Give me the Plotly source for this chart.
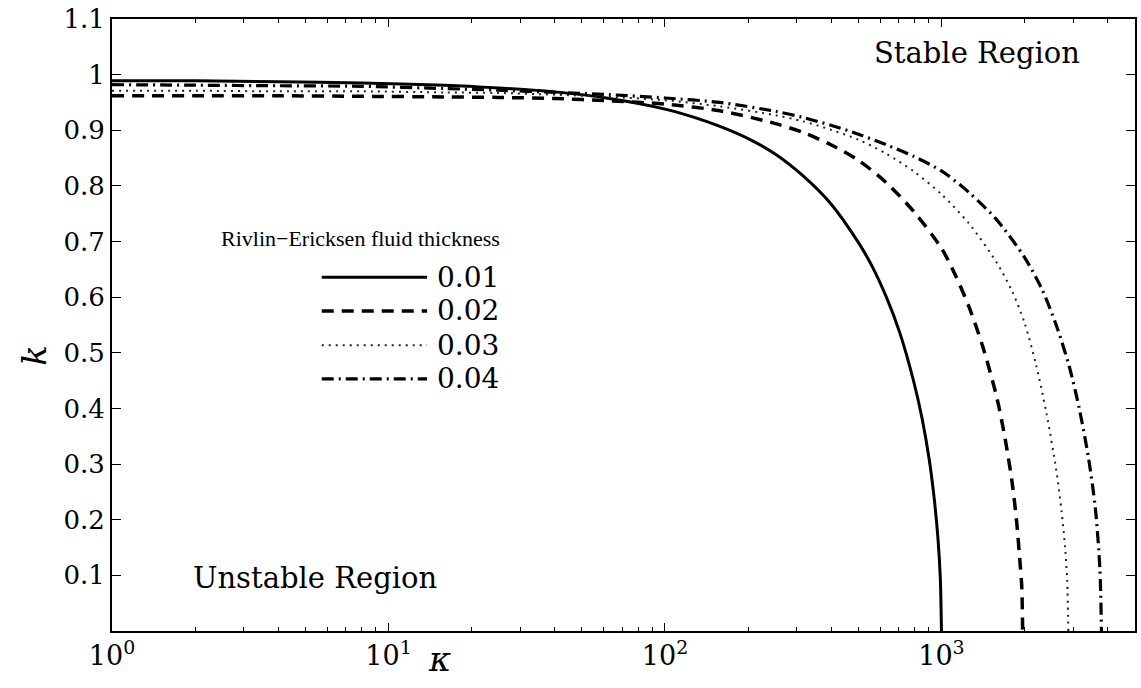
import plotly.graph_objects as go

# ---- data ----
kappa_001 = [1, 2, 4, 8, 16, 25, 40, 63, 100, 126, 158, 200, 251, 316, 398, 501, 562, 631, 708, 794, 851, 902, 940, 970, 990, 1000]
k_001 = [0.989, 0.989, 0.987, 0.985, 0.981, 0.976, 0.969, 0.957, 0.938, 0.924, 0.907, 0.885, 0.857, 0.818, 0.768, 0.698, 0.655, 0.601, 0.535, 0.448, 0.382, 0.310, 0.241, 0.170, 0.098, 0.0]

kappa_002 = [1, 2, 4, 8, 16, 25, 40, 63, 100, 158, 251, 316, 398, 501, 631, 794, 1000, 1122, 1259, 1413, 1585, 1700, 1800, 1870, 1925, 1952, 1966]
k_002 = [0.962, 0.962, 0.962, 0.961, 0.960, 0.959, 0.957, 0.953, 0.947, 0.935, 0.912, 0.896, 0.874, 0.846, 0.806, 0.754, 0.688, 0.640, 0.582, 0.510, 0.420, 0.345, 0.268, 0.197, 0.121, 0.080, 0.0]

kappa_003 = [1, 2, 4, 8, 16, 25, 40, 63, 100, 158, 251, 316, 398, 501, 631, 794, 1000, 1259, 1585, 1800, 2000, 2200, 2400, 2600, 2720, 2800, 2850, 2876]
k_003 = [0.971, 0.971, 0.970, 0.970, 0.968, 0.967, 0.964, 0.960, 0.954, 0.943, 0.927, 0.916, 0.901, 0.883, 0.858, 0.826, 0.785, 0.732, 0.662, 0.611, 0.553, 0.478, 0.390, 0.290, 0.215, 0.150, 0.090, 0.0]

kappa_004 = [1, 2, 4, 8, 16, 25, 40, 63, 100, 158, 251, 316, 398, 501, 631, 794, 1000, 1259, 1585, 2000, 2300, 2600, 2900, 3150, 3400, 3600, 3740, 3790]
k_004 = [0.982, 0.981, 0.980, 0.979, 0.975, 0.972, 0.968, 0.964, 0.958, 0.950, 0.934, 0.923, 0.909, 0.893, 0.874, 0.853, 0.827, 0.788, 0.739, 0.671, 0.616, 0.550, 0.475, 0.400, 0.312, 0.222, 0.113, 0.0]

series_names = ["0.01", "0.02", "0.03", "0.04"]
legend_title = "Rivlin\u2212Ericksen fluid thickness"

x_tickvals = [1, 10, 100, 1000]
x_ticktext = ["10<sup>0</sup>", "10<sup>1</sup>", "10<sup>2</sup>", "10<sup>3</sup>"]
y_tickvals = [0.1, 0.2, 0.3, 0.4, 0.5, 0.6, 0.7, 0.8, 0.9, 1.0, 1.1]
y_ticktext = ["0.1", "0.2", "0.3", "0.4", "0.5", "0.6", "0.7", "0.8", "0.9", "1", "1.1"]
minor_vals = [m * d for d in (1, 10, 100, 1000) for m in range(2, 10)]

# ---- styles ----
styles = [
    dict(color="black", width=3, dash="solid"),
    dict(color="black", width=3.5, dash="12px,8px"),
    dict(color="#222222", width=2, dash="2px,5px"),
    dict(color="black", width=3.2, dash="12px,5px,2px,5px"),
]

fig = go.Figure()
for xs, ys, name, st in zip([kappa_001, kappa_002, kappa_003, kappa_004],
                            [k_001, k_002, k_003, k_004], series_names, styles):
    fig.add_trace(go.Scatter(x=xs, y=ys, mode="lines", name=name,
                             line=dict(shape="spline", smoothing=0.8, **st),
                             showlegend=False))

SERIF = "DejaVu Serif"

# manual legend (line samples + labels), in paper coordinates
row_y = [0.578, 0.523, 0.467, 0.412]
shapes = []
annotations = []
for yy, name, st in zip(row_y, series_names, styles):
    shapes.append(dict(type="line", xref="paper", yref="paper",
                       x0=0.205, x1=0.308, y0=yy, y1=yy,
                       line=dict(color=st["color"], width=st["width"], dash=st["dash"])))
    annotations.append(dict(xref="paper", yref="paper", x=0.316, y=yy, text=name,
                            showarrow=False, xanchor="left", yanchor="middle",
                            font=dict(family=SERIF, size=28, color="black")))

annotations += [
    dict(xref="paper", yref="paper", x=0.243, y=0.642, text=legend_title, showarrow=False,
         xanchor="center", yanchor="middle",
         font=dict(family="Liberation Serif", size=22, color="black")),
    dict(xref="paper", yref="paper", x=0.846, y=0.944, text="Stable Region", showarrow=False,
         xanchor="center", yanchor="middle",
         font=dict(family=SERIF, size=29, color="black")),
    dict(xref="paper", yref="paper", x=0.198, y=0.086, text="Unstable Region", showarrow=False,
         xanchor="center", yanchor="middle",
         font=dict(family=SERIF, size=29, color="black")),
    dict(xref="paper", yref="paper", x=0.32, y=-0.045, text="<i>\u03ba</i>", showarrow=False,
         xanchor="center", yanchor="middle",
         font=dict(family=SERIF, size=34, color="black")),
    dict(xref="paper", yref="paper", x=-0.077, y=0.45, text="<i>k</i>", showarrow=False,
         xanchor="center", yanchor="middle", textangle=-90,
         font=dict(family=SERIF, size=34, color="black")),
]

fig.update_layout(
    width=1141, height=688,
    margin=dict(l=112, r=4, t=17, b=57),
    paper_bgcolor="white", plot_bgcolor="white",
    shapes=shapes, annotations=annotations,
    xaxis=dict(type="log", range=[0, 3.7], showgrid=False, zeroline=False,
               showline=True, linecolor="black", linewidth=2, mirror="ticks",
               ticks="inside", ticklen=8, tickwidth=1.2, tickcolor="black",
               tickvals=x_tickvals, ticktext=x_ticktext,
               tickfont=dict(family=SERIF, size=27, color="black"),
               minor=dict(ticks="inside", ticklen=4, tickwidth=1, tickcolor="black",
                          tickvals=minor_vals, showgrid=False)),
    yaxis=dict(range=[0, 1.1], showgrid=False, zeroline=False,
               showline=True, linecolor="black", linewidth=2, mirror="ticks",
               ticks="inside", ticklen=9, tickwidth=1.2, tickcolor="black",
               tickvals=y_tickvals, ticktext=y_ticktext,
               tickfont=dict(family=SERIF, size=26, color="black")),
)

fig.write_html("out.html")
